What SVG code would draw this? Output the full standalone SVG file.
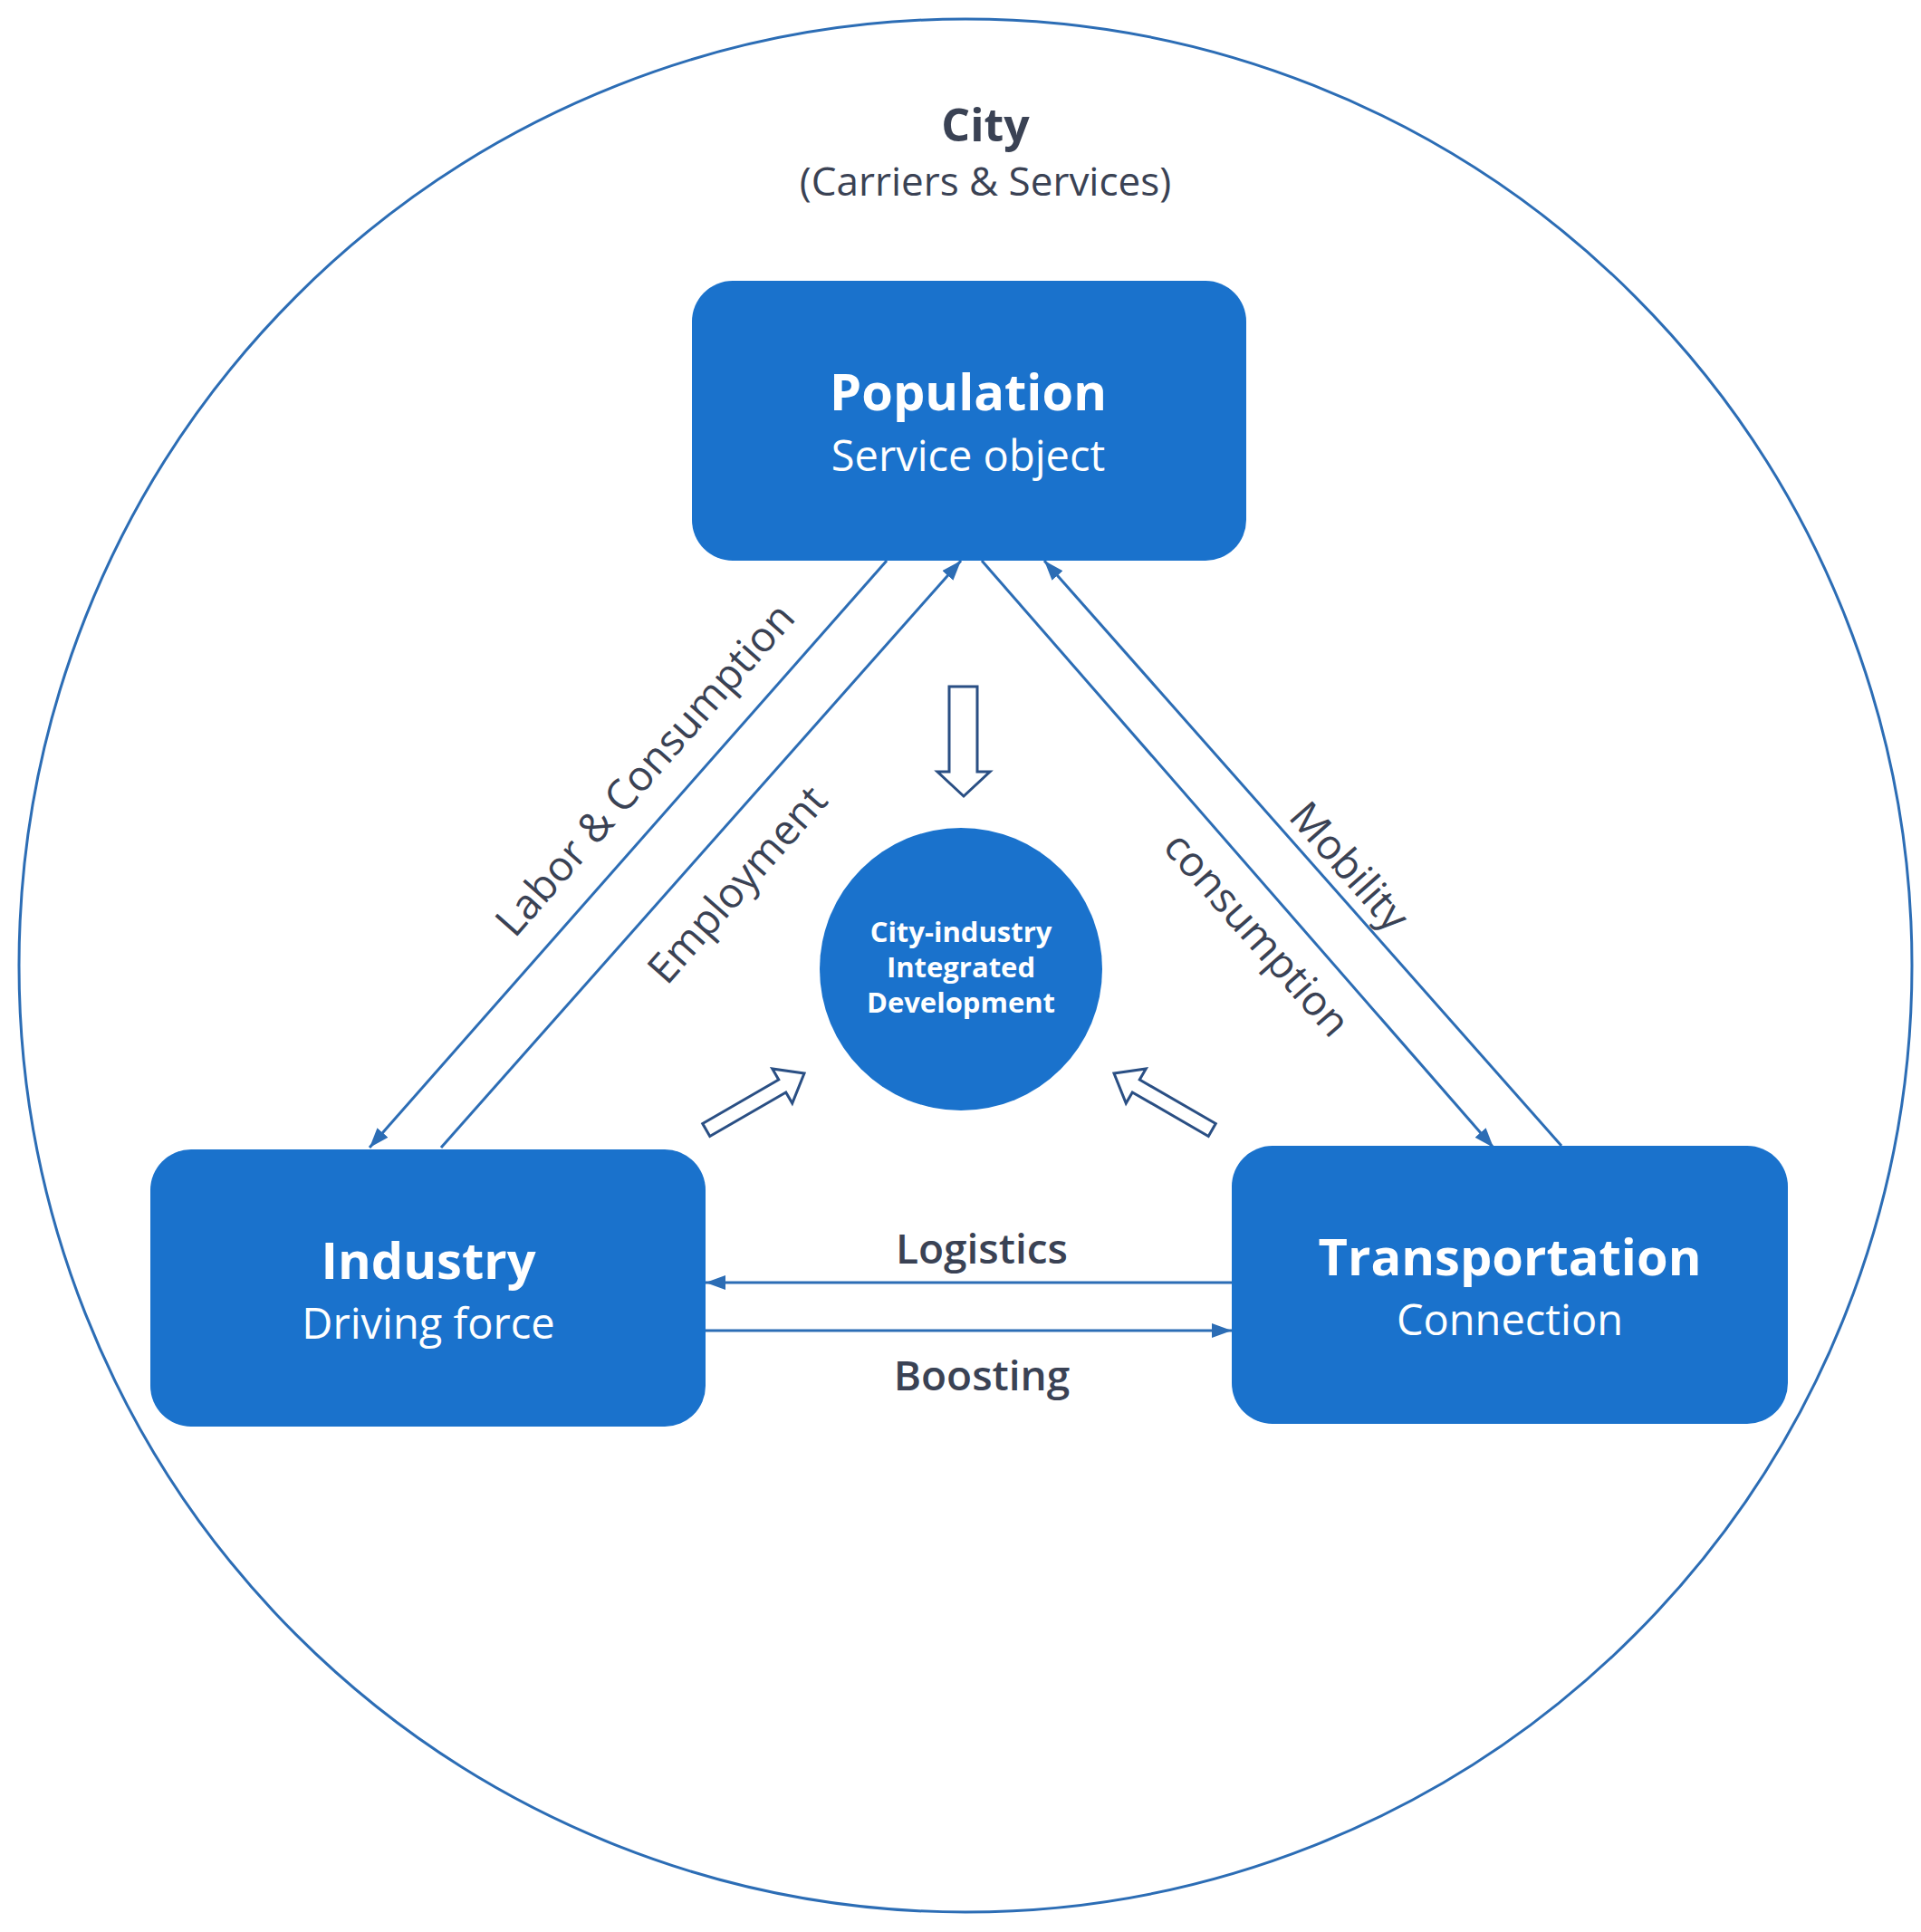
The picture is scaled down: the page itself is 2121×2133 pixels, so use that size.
<svg xmlns="http://www.w3.org/2000/svg" width="2121" height="2133" viewBox="0 0 2121 2133">
<defs>
<style>
.box{fill:#1a72cc}
.t{font-family:"Open Sans","Noto Sans",sans-serif;text-anchor:middle}
.w{fill:#fff}
.lbl{fill:#3a4254;font-size:46px}
.ln{stroke:#2c6db5;stroke-width:3;fill:none}
.hol{fill:#fff;stroke:#2a4f84;stroke-width:3}
</style>
<marker id="ah" viewBox="0 0 22 16" refX="22" refY="8" markerWidth="22" markerHeight="16" orient="auto" markerUnits="userSpaceOnUse">
<path d="M0,0 L22,8 L0,16 z" fill="#2c6db5"/>
</marker>
</defs>
<rect width="2121" height="2133" fill="#fff"/>
<g id="city">
<circle cx="1066" cy="1066" r="1045" fill="none" stroke="#2c6db5" stroke-width="3"/>
<text class="t" x="1088" y="156" font-size="50" font-weight="bold" fill="#3a4254">City</text>
<text class="t" x="1088" y="216" font-size="44" fill="#3a4254">(Carriers &amp; Services)</text>
</g>
<g id="connectors">
<line class="ln" x1="979" y1="619" x2="408" y2="1267" marker-end="url(#ah)"/>
<line class="ln" x1="487" y1="1267" x2="1061" y2="619" marker-end="url(#ah)"/>
<line class="ln" x1="1084" y1="619" x2="1649" y2="1267" marker-end="url(#ah)"/>
<line class="ln" x1="1724" y1="1265" x2="1153" y2="619" marker-end="url(#ah)"/>
<line class="ln" x1="1360" y1="1416" x2="779" y2="1416" marker-end="url(#ah)"/>
<line class="ln" x1="779" y1="1469" x2="1360" y2="1469" marker-end="url(#ah)"/>
<text class="t lbl" transform="translate(724,860) rotate(-48.6)">Labor &amp; Consumption</text>
<text class="t lbl" transform="translate(826,987) rotate(-48.6)">Employment</text>
<text class="t lbl" transform="translate(1376,1042) rotate(48.6)">consumption</text>
<text class="t lbl" transform="translate(1478,967) rotate(48.6)">Mobility</text>
<text class="t lbl" x="1084" y="1395" font-weight="600">Logistics</text>
<text class="t lbl" x="1084" y="1535" font-weight="600">Boosting</text>
</g>
<g id="hollow-arrows">
<path class="hol" d="M1048,758 L1079,758 L1079,852 L1093,852 L1064,879 L1035,852 L1048,852 Z"/>
<path class="hol" transform="translate(888,1185) rotate(150)" d="M0,0 L28,-22 L28,-8 L125,-8 L125,8 L28,8 L28,22 Z"/>
<path class="hol" transform="translate(1230,1185) rotate(30)" d="M0,0 L28,-22 L28,-8 L125,-8 L125,8 L28,8 L28,22 Z"/>
</g>
<g id="population">
<rect class="box" x="764" y="310" width="612" height="309" rx="45"/>
<text class="t w" x="1069" y="453" font-size="56" font-weight="bold">Population</text>
<text class="t w" x="1069" y="520" font-size="47">Service object</text>
</g>
<g id="industry">
<rect class="box" x="166" y="1269" width="613" height="306" rx="45"/>
<text class="t w" x="473" y="1412" font-size="56" font-weight="bold">Industry</text>
<text class="t w" x="473" y="1478" font-size="47">Driving force</text>
</g>
<g id="transportation">
<rect class="box" x="1360" y="1265" width="614" height="307" rx="45"/>
<text class="t w" x="1667" y="1408" font-size="56" font-weight="bold">Transportation</text>
<text class="t w" x="1667" y="1474" font-size="47">Connection</text>
</g>
<g id="center">
<circle class="box" cx="1061" cy="1070" r="156"/>
<text class="t w" x="1061" y="1040" font-size="31" font-weight="bold">City-industry</text>
<text class="t w" x="1061" y="1079" font-size="31" font-weight="bold">Integrated</text>
<text class="t w" x="1061" y="1118" font-size="31" font-weight="bold">Development</text>
</g>
</svg>
